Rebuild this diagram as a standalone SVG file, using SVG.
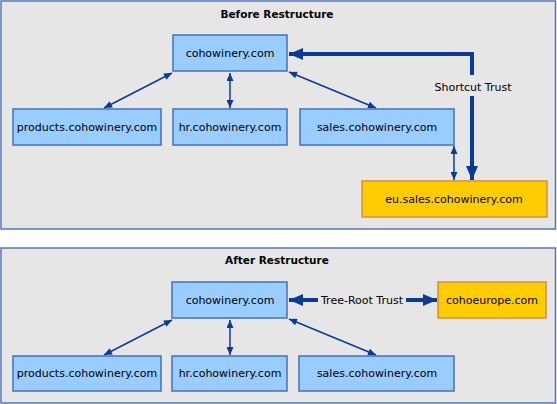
<svg xmlns="http://www.w3.org/2000/svg" width="557" height="404" viewBox="0 0 557 404">
<defs>
<marker id="a" viewBox="0 0 8 7" refX="8" refY="3.5" markerUnits="userSpaceOnUse" markerWidth="9" markerHeight="7" orient="auto-start-reverse"><path d="M0,0 L8,3.5 L0,7 Z" fill="#0a3a9c"/></marker>
<marker id="b" viewBox="0 0 14 12" refX="14" refY="6" markerUnits="userSpaceOnUse" markerWidth="15" markerHeight="12" orient="auto-start-reverse"><path d="M0,0 L14,6 L0,12 Z" fill="#0a3a9c"/></marker>
<style>
.panel{fill:#e6e6e6;stroke:#5577b8;stroke-width:1.5}
.n{fill:#99ccff;stroke:#3f72c4;stroke-width:1.5}
.y{fill:#ffcc00;stroke:#e08a3c;stroke-width:1.5}
text{font-family:"DejaVu Sans",Verdana,sans-serif;font-size:11px;fill:#000;text-anchor:middle}
.t{font-weight:bold;font-size:10.5px}
.c{fill:none;stroke:#0a3a9c;stroke-width:1.5;marker-start:url(#a);marker-end:url(#a)}
.k{fill:none;stroke:#0a3a9c;stroke-width:4}
</style>
</defs>
<rect class="panel" x="1" y="1" width="554.5" height="228"/>
<text class="t" x="277" y="18">Before Restructure</text>
<rect class="panel" x="1" y="248" width="554.5" height="155"/>
<text class="t" x="277" y="264">After Restructure</text>
<g id="connectors">
<line class="c" x1="172" y1="73" x2="104" y2="108"/>
<line class="c" x1="230" y1="73" x2="230" y2="108"/>
<line class="c" x1="289" y1="72" x2="376" y2="108"/>
<line class="c" x1="454" y1="146" x2="454" y2="180"/>
<path class="k" d="M472,75 V54 H289" marker-end="url(#b)"/>
<path class="k" d="M472,96 V180" marker-end="url(#b)"/>
<text x="473" y="91">Shortcut Trust</text>
<line class="c" x1="172" y1="320" x2="104" y2="355"/>
<line class="c" x1="230" y1="320" x2="230" y2="355"/>
<line class="c" x1="289" y1="319" x2="376" y2="355"/>
<path class="k" d="M318,300 H289" marker-end="url(#b)"/>
<path class="k" d="M406,300 H437" marker-end="url(#b)"/>
<text x="362" y="304">Tree-Root Trust</text>
</g>
<g id="before-coho"><rect class="n" x="173" y="35" width="114" height="36"/><text x="230" y="57">cohowinery.com</text></g>
<g id="before-products"><rect class="n" x="13" y="109" width="148" height="36"/><text x="87" y="131">products.cohowinery.com</text></g>
<g id="before-hr"><rect class="n" x="173" y="109" width="114" height="36"/><text x="230" y="131">hr.cohowinery.com</text></g>
<g id="before-sales"><rect class="n" x="300" y="109" width="154" height="36"/><text x="377" y="131">sales.cohowinery.com</text></g>
<g id="before-eu"><rect class="y" x="362" y="181" width="185" height="36"/><text x="454" y="203">eu.sales.cohowinery.com</text></g>
<g id="after-coho"><rect class="n" x="172" y="282" width="115" height="36"/><text x="230" y="304">cohowinery.com</text></g>
<g id="after-europe"><rect class="y" x="438" y="282" width="108" height="36"/><text x="492" y="304">cohoeurope.com</text></g>
<g id="after-products"><rect class="n" x="13" y="356" width="148" height="35"/><text x="87" y="377">products.cohowinery.com</text></g>
<g id="after-hr"><rect class="n" x="172" y="356" width="115" height="35"/><text x="230" y="377">hr.cohowinery.com</text></g>
<g id="after-sales"><rect class="n" x="299" y="356" width="155" height="35"/><text x="377" y="377">sales.cohowinery.com</text></g>
</svg>
